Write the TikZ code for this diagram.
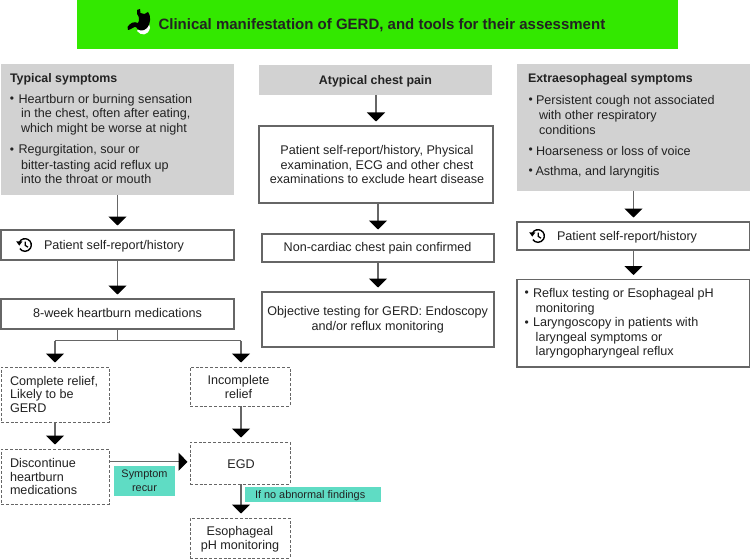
\documentclass[tikz,border=0pt]{standalone}
\usepackage{fontspec}
\setmainfont{Liberation Sans}
\usetikzlibrary{arrows.meta,calc}
\definecolor{titlegreen}{HTML}{33E800}
\definecolor{panelgray}{HTML}{D2D2D2}
\definecolor{tealtag}{HTML}{5FDCC4}
\definecolor{linegray}{HTML}{666666}
\definecolor{txt}{HTML}{222222}
\tikzset{
 x=1pt,y=-1pt,
 every node/.style={inner sep=0pt,outer sep=0pt,yshift=-0.8pt,font=\fontsize{12.6}{14.6}\selectfont,text=txt},
 sp/.style={font=\fontsize{12.6}{#1}\selectfont},
 headtext/.style={font=\fontsize{12.4}{15}\selectfont\bfseries},
 bul/.style={font=\fontsize{12}{15}\selectfont},
 panel/.style={fill=panelgray,draw=none},
 solidbox/.style={draw=linegray,line width=1.1pt,fill=white},
 dashbox/.style={draw=linegray,line width=1pt,dash pattern=on 3pt off 1.8pt,fill=white},
 tagbox/.style={fill=tealtag,draw=none},
 flow/.style={draw=linegray,line width=1.3pt,-{Triangle[width=18pt,length=9pt,fill=black,color=black]},shorten >=4.5pt},
 flowhoriz/.style={flow,shorten >=0pt},
 plainline/.style={draw=linegray,line width=1.3pt},
}
\newcommand{\boxnode}[6][solidbox]{\node[#1,yshift=0.8pt,minimum width=#4-#3,minimum height=#6-#5,anchor=north west] (#2) at (#3,#5) {};}
\newcommand{\hist}[2]{%
 \begin{scope}[shift={(#1,#2)}]
  \draw[black,line width=1.4pt] (210:6.3) arc[start angle=210,end angle=505,radius=6.3];
  \fill[black] (-8.8,-3.6) -- (-2.6,-3.6) -- (-5.7,0.6) -- cycle;
  \draw[black,line width=1.2pt] (0.3,-3.4) -- (0.3,0.4) -- (3,2.2);
 \end{scope}}
\begin{document}
\begin{tikzpicture}
\useasboundingbox (0,0) rectangle (750,559);
\fill[white] (0,0) rectangle (750,559);
% title
\boxnode[fill=titlegreen,draw=none]{title}{77}{678}{0}{49}
\node[anchor=west,font=\fontsize{15}{18}\selectfont\bfseries] (titletext) at (158.5,24) {Clinical manifestation of GERD, and tools for their assessment};
\fill[white] (137,31) .. controls (141,36) and (148,36) .. (150,28) -- (149,24) -- (140,28) -- cycle;
\fill[black] (137,10) -- (140,9) -- (140.5,13) .. controls (143,15) and (146,14) .. (148,12)
  .. controls (151,15) and (151,24) .. (147,28) .. controls (143,32) and (138,31) .. (136,27)
  .. controls (134,26) and (131,30) .. (128,30) -- (127.5,27) .. controls (130,23) and (134,21) .. (138,23)
  .. controls (140,20) and (139,16) .. (137,14) -- cycle;
% panels
\boxnode[panel]{typ}{1}{234}{64}{195}
\boxnode[panel]{aty}{259}{492}{65}{95}
\boxnode[panel]{ext}{517}{750}{64}{191}
\node[anchor=west,headtext] (typh) at (10,78) {Typical symptoms};
\node[headtext] (atyh) at (375.5,80) {Atypical chest pain};
\node[anchor=west,headtext] (exth) at (528,79) {Extraesophageal symptoms};
\node[bul] (t1) at (12,99) {•};
\node[anchor=west] (t1a) at (18.5,99) {Heartburn or burning sensation};
\node[anchor=west,align=left] (t1b) at (21,121) {in the chest, often after eating,\\which might be worse at night};
\node[bul] (t2) at (12,149.5) {•};
\node[anchor=west] (t2a) at (18.5,149.5) {Regurgitation, sour or};
\node[anchor=west,align=left] (t2b) at (21,171.2) {bitter-tasting acid reflux up\\into the throat or mouth};
\node[bul] (e1) at (530.7,100) {•};
\node[anchor=west] (e1a) at (536,100) {Persistent cough not associated};
\node[anchor=west,align=left] (e1b) at (539,121.8) {with other respiratory\\conditions};
\node[bul] (e2) at (530.7,150.3) {•};
\node[anchor=west] (e2b) at (536,150.3) {Hoarseness or loss of voice};
\node[bul] (e3) at (530.7,171) {•};
\node[anchor=west] (e3b) at (535.5,171) {Asthma, and laryngitis};
% left column
\boxnode{hl}{1}{234}{230}{260}
\hist{25}{245}
\node[anchor=west] (hlt) at (44,245) {Patient self-report/history};
\boxnode{med}{1}{234}{299}{329}
\node (medt) at (117.5,312.5) {8-week heartburn medications};
\boxnode[dashbox]{rel}{1}{109}{367}{422}
\node[anchor=west,align=left,sp=13.6] (relt) at (10,393.5) {Complete relief,\\Likely to be\\GERD};
\boxnode[dashbox]{inc}{190}{290}{367}{406}
\node[align=center,sp=13.7] (inct) at (238.5,386) {Incomplete\\relief};
\boxnode[dashbox]{dis}{1}{109}{449}{504}
\node[anchor=west,align=left,sp=13.6] (dist) at (10,475.7) {Discontinue\\heartburn\\medications};
\boxnode[dashbox]{egd}{190}{290}{442}{484}
\node (egdt) at (241,463) {EGD};
\boxnode[dashbox]{eso}{190}{290}{518}{558}
\node[align=center,sp=14] (esot) at (240,538) {Esophageal\\pH monitoring};
% middle column
\boxnode{m1}{259}{493}{126}{203}
\node[align=center,sp=14.5] (m1t) at (377,163.7) {Patient self-report/history, Physical\\examination, ECG and other chest\\examinations to exclude heart disease};
\boxnode{m2}{262}{494}{234}{262}
\node (m2t) at (377.5,247.5) {Non-cardiac chest pain confirmed};
\boxnode{m3}{262}{494}{292}{347}
\node[align=center,sp=14.5] (m3t) at (377.7,319) {Objective testing for GERD: Endoscopy\\and/or reflux monitoring};
% right column
\boxnode{hr}{517}{750}{222}{250}
\hist{538}{236}
\node[anchor=west] (hrt) at (557,236) {Patient self-report/history};
\boxnode{r2}{517}{750}{279.5}{367}
\node[bul] (r2a) at (526.7,293) {•};
\node[anchor=west] (r2b) at (533,293) {Reflux testing or Esophageal pH};
\node[anchor=west] (r2bb) at (535.7,308) {monitoring};
\node[bul] (r2c) at (526.7,322.5) {•};
\node[anchor=west] (r2d) at (533,322.5) {Laryngoscopy in patients with};
\node[anchor=west,align=left] (r2e) at (535.7,344.3) {laryngeal symptoms or\\laryngopharyngeal reflux};
% connectors
\draw[flow] (typ.south) -- (hl.north);
\draw[flow] (hl.south) -- (med.north);
\coordinate (split) at (117.5,340);
\draw[plainline] (med.south) -- (split);
\coordinate (splitl) at (55,340);
\coordinate (splitr) at (241,340);
\draw[plainline] (splitl) -- (splitr);
\draw[flow] (splitl) -- (rel.north-|splitl);
\draw[flow] (splitr) -- (inc.north-|splitr);
\draw[flow] (rel.south) -- (dis.north);
\draw[flow] (inc.south-|splitr) -- (egd.north-|splitr);
\coordinate (dise) at (109,461);
\coordinate (egdw) at (187.5,461);
\draw[flowhoriz] (dise) -- (egdw);
\draw[flow] (egd.south-|splitr) -- (eso.north-|splitr);
\draw[flow] (aty.south-|m1.north) -- (m1.north);
\draw[flow] (m1.south-|m2.north) -- (m2.north);
\draw[flow] (m2.south) -- (m3.north);
\draw[flow] (ext.south) -- (hr.north);
\draw[flow] (hr.south) -- (r2.north);
% tags
\boxnode[tagbox]{sym}{114}{175}{466}{496}
\node[align=center,font=\fontsize{10.9}{13.4}\selectfont] (symt) at (144.5,480) {Symptom\\recur};
\boxnode[tagbox]{abn}{245}{381}{487}{502}
\node[anchor=west,font=\fontsize{10.9}{13}\selectfont] (abnt) at (255,495) {If no abnormal findings};
\end{tikzpicture}
\end{document}
